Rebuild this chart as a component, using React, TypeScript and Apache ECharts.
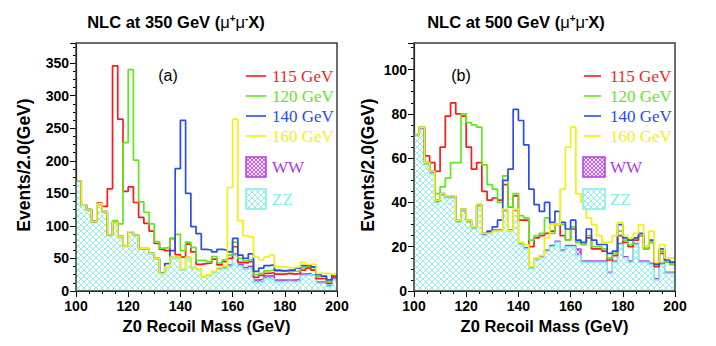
import React, { useEffect, useRef } from "react";
import * as echarts from "echarts";

// Bin edges (GeV), 2 GeV bins from 100 to 200
const binEdges = [100,102,104,106,108,110,112,114,116,118,120,122,124,126,128,130,132,134,136,138,140,142,144,146,148,150,152,154,156,158,160,162,164,166,168,170,172,174,176,178,180,182,184,186,188,190,192,194,196,198,200];

// Panel (a): NLC at 350 GeV
const aZZ = [168,131,124,106,133,121,85,105,83,68, 90,85,64,64,57,49,26,36,50,51, 32,50,35,33,21,24,28,33,35,38, 55,38,33,35,13,14,19,19,14,14, 15,14,15,24,25,24,12,12,7,17];
const aWW = [169,132,125,107,134,122,86,106,84,69, 91,86,65,65,58,50,27,37,52,53, 33,52,36,34,22,25,29,34,36,40, 57,41,36,38,17,18,23,24,17,17, 17,17,18,26,27,25,14,14,9,20];
const aH115 = [169,132,125,107,135,130,157,346,264,153, 160,136,113,104,92,73,64,62,81,56, 52,72,60,41,42,43,49,40,45,50, 68,44,43,45,21,24,27,28,26,26, 27,26,27,32,35,32,19,19,12,22];
const aH120 = [169,132,125,107,134,122,86,108,103,228, 340,201,137,121,103,76,66,67,80,87, 62,75,67,47,47,45,53,43,48,55, 75,50,46,48,25,27,31,32,30,30, 30,30,31,36,38,36,22,22,14,25];
const aH140 = [169,132,125,107,134,122,86,106,84,69, 91,86,65,65,58,50,28,42,62,188, 262,150,99,88,64,63,60,64,63,60, 81,55,50,57,30,35,39,40,32,31, 32,32,35,39,40,37,25,23,17,25];
const aH160 = [169,132,125,107,134,122,86,106,84,69, 91,86,65,65,58,50,27,37,52,53, 33,52,36,34,22,25,30,36,38,159, 264,108,85,83,52,48,52,55,37,37, 36,36,37,44,41,41,27,27,26,26];

// Panel (b): NLC at 500 GeV
const bZZ = [70,73,57,53,40,43,42,42,31,36, 31,28,38,25,26,27,27,36,27,36, 21,19,10,14,15,18,20,22,18,20, 20,16,13,13,13,13,13,8,13,21, 15,13,21,13,13,12,5,12,8,8];
const bWW = [70.5,73.5,57.5,53.5,40.5,43.5,42.5,42.5,31.5,36.5, 31.5,28.5,38.5,25.5,26.5,27.5,27.5,36.5,27.5,36.5, 21.5,19.5,10.5,14.5,15.5,18.5,20.5,22.5,18.5,20.5, 20.5,19,13.5,13.5,13.5,13.5,13.5,8.5,13.5,21.5, 15.5,13.5,21.5,13.5,13.5,12.5,5.5,12.5,8.5,8.5];
const bH115 = [71,74,61,58,54,65,79,85,80,79, 65,55,58,45,41,42,41,48,38,43, 32,32,20,24,25,26,27,30,25,23, 28,22,21,24,19,19,18,14,16,25, 22,20,23,25,19,22,11,17,13,12];
const bH120 = [71,74,58,54,44,47,51,58,58,80, 76,75,74,57,48,46,40,52,38,44, 34,33,23,25,26,33,26,30,30,23, 29,22,21,25,20,20,19,15,17,27, 23,21,24,25,19,22,12,18,13,12];
const bH140 = [71,74,58,54,41,44,43,43,32,37, 32,29,39,26,27,29,32,50,55,82, 77,66,46,39,36,40,31,36,31,28, 32,23,22,28,23,21,21,17,18,30, 24,23,24,26,20,23,12,19,14,13];
const bH160 = [71,74,58,54,41,44,43,43,32,37, 32,29,39,26,26,27,27,37,27,37, 22,21,11,15,16,24,30,30,46,65, 74,44,40,33,30,25,22,22,25,31, 25,24,26,30,20,27,13,21,15,15];

const legendLabels = ["115 GeV", "120 GeV", "140 GeV", "160 GeV"];
const titles = ["NLC at 350 GeV (", "NLC at 500 GeV ("];

const RED = "#ff1a1a";
const GREEN = "#5ee81c";
const BLUE = "#2a4bf0";
const YELLOW = "#f2f20a";
const CYAN = "#7ff0e4";
const MAGENTA = "#b43ce6";

function steps(vals: number[]) {
  return binEdges.map((x, i) => [x, vals[Math.min(i, vals.length - 1)]]);
}

function hatch(color: string, size: number, bg: string | null, lw: number) {
  const c = document.createElement("canvas");
  c.width = size;
  c.height = size;
  const g = c.getContext("2d")!;
  if (bg) {
    g.fillStyle = bg;
    g.fillRect(0, 0, size, size);
  }
  g.strokeStyle = color;
  g.lineWidth = lw;
  g.beginPath();
  g.moveTo(0, 0);
  g.lineTo(size, size);
  g.moveTo(size, 0);
  g.lineTo(0, size);
  g.stroke();
  return c;
}

export default function App() {
  const ref = useRef<HTMLDivElement>(null);
  useEffect(() => {
    if (!ref.current) return;
    const chart = echarts.init(ref.current, null, { renderer: "svg" });
    const zzPat: any = { image: hatch("#8ff2e8", 6, "#ffffff", 1), repeat: "repeat" };
    const wwPat: any = { image: hatch("#c060f0", 4, "#f4e0ff", 1), repeat: "repeat" };

    const font = "Liberation Sans, Arial, Helvetica, sans-serif";
    const serif = "Liberation Serif, Times New Roman, serif";

    const grids = [
      { left: 76, top: 43, width: 261, height: 248 },
      { left: 414, top: 43, width: 261, height: 248 },
    ];
    const yMax = [381, 112];
    const yInt = [50, 20];
    const panels = [
      [aZZ, aWW, aH115, aH120, aH140, aH160],
      [bZZ, bWW, bH115, bH120, bH140, bH160],
    ];
    const titleX = [176, 516];
    const yTitleX = [24, 368];

    const xAxes: any[] = [];
    const yAxes: any[] = [];
    const series: any[] = [];
    const graphics: any[] = [];

    grids.forEach((g, p) => {
      xAxes.push({
        type: "value",
        gridIndex: p,
        min: 100,
        max: 200,
        interval: 20,
        axisLine: { show: true, lineStyle: { color: "#000", width: 1.2 } },
        axisTick: { show: true, inside: false, length: 6, lineStyle: { color: "#000" } },
        minorTick: { show: true, splitNumber: 4, length: 3, lineStyle: { color: "#000" } },
        splitLine: { show: false },
        axisLabel: { color: "#000", fontFamily: font, fontWeight: "bold", fontSize: 14, margin: 8 },
      });
      yAxes.push({
        type: "value",
        gridIndex: p,
        min: 0,
        max: yMax[p],
        interval: yInt[p],
        axisLine: { show: true, lineStyle: { color: "#000", width: 1.2 } },
        axisTick: { show: true, inside: false, length: 6, lineStyle: { color: "#000" } },
        minorTick: { show: true, splitNumber: 4, length: 3, lineStyle: { color: "#000" } },
        splitLine: { show: false },
        axisLabel: { color: "#000", fontFamily: font, fontWeight: "bold", fontSize: 14, margin: 7, showMaxLabel: false },
      });
      const [zz, ww, h115, h120, h140, h160] = panels[p];
      const base = { type: "line", xAxisIndex: p, yAxisIndex: p, step: "end", showSymbol: false, symbol: "none", clip: true, silent: true };
      series.push({ ...base, name: "WW", data: steps(ww), z: 1, lineStyle: { color: MAGENTA, width: 1.5 }, areaStyle: { color: wwPat, opacity: 1 } });
      series.push({ ...base, name: "ZZ", data: steps(zz), z: 2, lineStyle: { color: CYAN, width: 1.5 }, areaStyle: { color: zzPat, opacity: 1 } });
      series.push({ ...base, name: "115", data: steps(h115), z: 3, lineStyle: { color: RED, width: 1.7 } });
      series.push({ ...base, name: "120", data: steps(h120), z: 4, lineStyle: { color: GREEN, width: 1.7 } });
      series.push({ ...base, name: "140", data: steps(h140), z: 5, lineStyle: { color: BLUE, width: 1.7 } });
      series.push({ ...base, name: "160", data: steps(h160), z: 6, lineStyle: { color: YELLOW, width: 1.7 } });

      // Frame
      graphics.push({ type: "rect", shape: { x: g.left, y: g.top, width: g.width, height: g.height }, style: { fill: "none", stroke: "#3c3c3c", lineWidth: 1.5 }, z: 100, silent: true });

      const cx = g.left + g.width / 2;
      // Title
      graphics.push({
        type: "text",
        x: titleX[p],
        y: 22,
        style: {
          text: `{b|${titles[p]}}{m|μ}{s|+}{m|μ}{s|-}{b|X)}`,
          align: "center",
          verticalAlign: "middle",
          rich: {
            b: { fontFamily: font, fontWeight: "bold", fontSize: 16.5, fill: "#000" },
            m: { fontFamily: font, fontSize: 16.5, fill: "#000" },
            s: { fontFamily: font, fontWeight: "bold", fontSize: 10, fill: "#000", verticalAlign: "top", padding: [0, 0, 6, 0] },
          },
        },
        z: 100,
      });
      // Axis titles
      graphics.push({
        type: "text",
        x: cx,
        y: 326,
        style: { text: "Z0 Recoil Mass (GeV)", fontFamily: font, fontWeight: "bold", fontSize: 16.5, fill: "#000", align: "center", verticalAlign: "middle" },
        z: 100,
      });
      graphics.push({
        type: "text",
        x: yTitleX[p],
        y: g.top + g.height / 2 - 2,
        rotation: Math.PI / 2,
        style: { text: "Events/2.0(GeV)", fontFamily: font, fontWeight: "bold", fontSize: 17.5, fill: "#000", align: "center", verticalAlign: "middle" },
        z: 100,
      });
      // Panel tag
      graphics.push({
        type: "text",
        x: p === 0 ? 168 : 461,
        y: 75,
        style: { text: p === 0 ? "(a)" : "(b)", fontFamily: font, fontSize: 16, fill: "#000", align: "center", verticalAlign: "middle" },
        z: 100,
      });
      // Legend
      const colors = [RED, GREEN, BLUE, YELLOW];
      const lx0 = p === 0 ? 246 : 584;
      const lx1 = p === 0 ? 266 : 601;
      const tx = p === 0 ? 272 : 610;
      legendLabels.forEach((lab, i) => {
        const y = 76 + i * 20;
        graphics.push({ type: "line", shape: { x1: lx0, y1: y, x2: lx1, y2: y }, style: { stroke: colors[i], lineWidth: 1.6 }, z: 100 });
        graphics.push({ type: "text", x: tx, y, style: { text: lab, fontFamily: serif, fontSize: 17, fill: colors[i], align: "left", verticalAlign: "middle" }, z: 100 });
      });
      const bx = p === 0 ? 246 : 583;
      const bw = p === 0 ? 20 : 22;
      graphics.push({ type: "rect", shape: { x: bx, y: 157, width: bw, height: 20 }, style: { fill: wwPat, stroke: MAGENTA, lineWidth: 1.5 }, z: 100 });
      graphics.push({ type: "rect", shape: { x: bx, y: 189, width: bw, height: 20 }, style: { fill: zzPat, stroke: CYAN, lineWidth: 1.5 }, z: 100 });
      graphics.push({ type: "text", x: tx, y: 167, style: { text: "WW", fontFamily: serif, fontSize: 17, fill: "#a840e0", align: "left", verticalAlign: "middle" }, z: 100 });
      graphics.push({ type: "text", x: tx, y: 199, style: { text: "ZZ", fontFamily: serif, fontSize: 17, fill: CYAN, align: "left", verticalAlign: "middle" }, z: 100 });
    });

    chart.setOption({
      animation: false,
      backgroundColor: "#ffffff",
      grid: grids.map((g) => ({ ...g, show: false, containLabel: false })),
      xAxis: xAxes,
      yAxis: yAxes,
      series,
      graphic: { elements: graphics },
    });
    return () => chart.dispose();
  }, []);
  return <div ref={ref} style={{ position: "fixed", left: 0, top: 0, width: 716, height: 346 }} />;
}
